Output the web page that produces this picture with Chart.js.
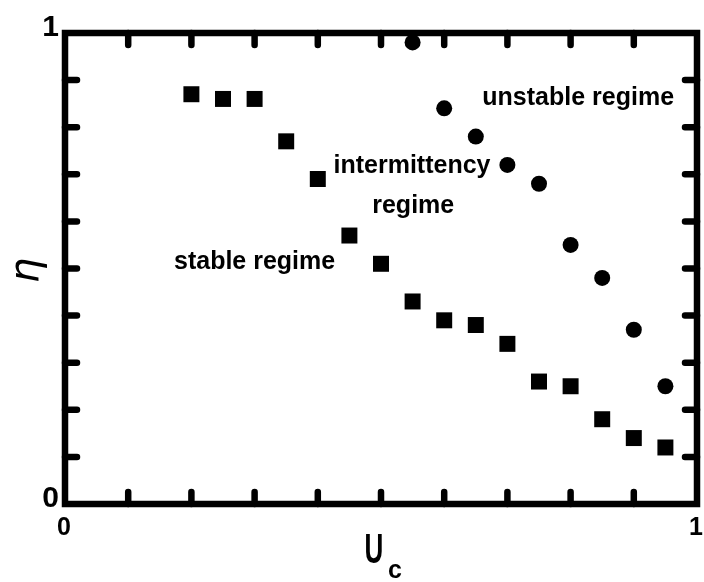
<!DOCTYPE html>
<html>
<head>
<meta charset="utf-8">
<script src="https://cdn.jsdelivr.net/npm/chart.js@4.4.1/dist/chart.umd.min.js"></script>
<style>
  html, body { margin: 0; padding: 0; background: #fff; }
  #wrap { width: 704px; height: 582px; }
</style>
</head>
<body>
<div id="wrap"><canvas id="chart"></canvas></div>
<script>
// stable regime (squares)
const stableUc  = [0.20, 0.25, 0.30, 0.35, 0.40, 0.45, 0.50, 0.55, 0.60, 0.65, 0.70, 0.75, 0.80, 0.85, 0.90, 0.95];
const stableEta = [0.87, 0.86, 0.86, 0.77, 0.69, 0.57, 0.51, 0.43, 0.39, 0.38, 0.34, 0.26, 0.25, 0.18, 0.14, 0.12];

// unstable regime (circles)
const unstableUc  = [0.55, 0.60, 0.65, 0.70, 0.75, 0.80, 0.85, 0.90, 0.95];
const unstableEta = [0.98, 0.84, 0.78, 0.72, 0.68, 0.55, 0.48, 0.37, 0.25];

// tick marks drawn inside the frame, and the labelled ends
const innerTicks = [0.1, 0.2, 0.3, 0.4, 0.5, 0.6, 0.7, 0.8, 0.9];
const endTicks = [0, 1];
const endLabels = ['0', '1'];

const notes = [
  { text: 'stable regime',   x: 0.300, y: 0.498 },
  { text: 'intermittency',   x: 0.549, y: 0.703 },
  { text: 'regime',          x: 0.551, y: 0.618 },
  { text: 'unstable regime', x: 0.812, y: 0.847 }
];

const sans = '"Liberation Sans", Arial, sans-serif';

const pairs = (xs, ys) => xs.map((v, i) => ({ x: v, y: ys[i] }));

const framePlugin = {
  id: 'frame',
  afterDatasetsDraw(chart) {
    const { ctx, chartArea: a, scales: { x, y } } = chart;
    ctx.save();
    ctx.strokeStyle = '#000';
    ctx.fillStyle = '#000';

    // inward ticks on all four sides
    ctx.lineWidth = 6.5;
    ctx.lineCap = 'round';
    ctx.beginPath();
    innerTicks.forEach(v => {
      const px = x.getPixelForValue(v);
      const py = y.getPixelForValue(v);
      ctx.moveTo(px, a.bottom); ctx.lineTo(px, a.bottom - 12);
      ctx.moveTo(px, a.top);    ctx.lineTo(px, a.top + 12);
      ctx.moveTo(a.left, py);   ctx.lineTo(a.left + 12, py);
      ctx.moveTo(a.right, py);  ctx.lineTo(a.right - 12, py);
    });
    ctx.stroke();

    // frame
    ctx.lineCap = 'butt';
    ctx.lineJoin = 'miter';
    ctx.strokeRect(a.left, a.top, a.right - a.left, a.bottom - a.top);

    // end tick labels
    ctx.textBaseline = 'alphabetic';
    ctx.font = 'bold 30px ' + sans;
    ctx.textAlign = 'right';
    endTicks.forEach((v, i) => {
      ctx.fillText(endLabels[i], a.left - 6, y.getPixelForValue(v) + 2.5);
    });
    ctx.font = 'bold 25px ' + sans;
    ctx.textAlign = 'center';
    endTicks.forEach((v, i) => {
      ctx.fillText(endLabels[i], x.getPixelForValue(v) - 1, a.bottom + 31);
    });

    // regime labels
    ctx.font = 'bold 25px ' + sans;
    ctx.textAlign = 'center';
    notes.forEach(n => {
      ctx.fillText(n.text, x.getPixelForValue(n.x), y.getPixelForValue(n.y));
    });

    // y title
    ctx.save();
    ctx.translate(28, (a.top + a.bottom) / 2 + 2);
    ctx.rotate(-Math.PI / 2);
    ctx.font = 'italic 40px "DejaVu Sans", sans-serif';
    ctx.textAlign = 'center';
    ctx.textBaseline = 'middle';
    ctx.fillText('η', 0, 0);
    ctx.restore();

    // x title U with subscript c
    const cx = (a.left + a.right) / 2;
    ctx.save();
    ctx.translate(cx - 7, 563);
    ctx.scale(0.62, 1);
    ctx.font = 'bold 42px ' + sans;
    ctx.textAlign = 'center';
    ctx.fillText('U', 0, 0);
    ctx.restore();
    ctx.font = 'bold 25px ' + sans;
    ctx.textAlign = 'left';
    ctx.fillText('c', cx + 7, 578);

    ctx.restore();
  }
};

new Chart(document.getElementById('chart'), {
  type: 'scatter',
  data: {
    datasets: [
      {
        label: 'stable',
        data: pairs(stableUc, stableEta),
        pointStyle: 'rect',
        pointRadius: 11.3,
        pointHoverRadius: 11.3,
        backgroundColor: '#000',
        borderWidth: 0,
        clip: false
      },
      {
        label: 'unstable',
        data: pairs(unstableUc, unstableEta),
        pointStyle: 'circle',
        pointRadius: 8,
        pointHoverRadius: 8,
        backgroundColor: '#000',
        borderWidth: 0,
        clip: false
      }
    ]
  },
  options: {
    responsive: true,
    maintainAspectRatio: false,
    animation: false,
    events: [],
    layout: { autoPadding: false, padding: { top: 33, right: 7, left: 0, bottom: 0 } },
    plugins: { legend: { display: false }, tooltip: { enabled: false } },
    scales: {
      x: {
        type: 'linear',
        min: 0,
        max: 1,
        border: { display: false },
        grid: { display: false, drawTicks: false },
        ticks: { display: false },
        afterFit(scale) {
          scale.height = 78;
          scale.paddingLeft = 0;
          scale.paddingRight = 0;
        }
      },
      y: {
        type: 'linear',
        min: 0,
        max: 1,
        border: { display: false },
        grid: { display: false, drawTicks: false },
        ticks: { display: false },
        afterFit(scale) {
          scale.width = 65;
          scale.paddingTop = 0;
          scale.paddingBottom = 0;
        }
      }
    }
  },
  plugins: [framePlugin]
});
</script>
</body>
</html>
